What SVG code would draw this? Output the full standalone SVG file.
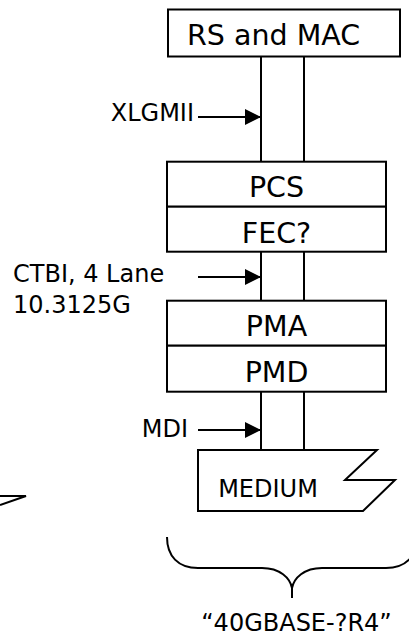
<svg xmlns="http://www.w3.org/2000/svg" width="409" height="637" viewBox="0 0 409 637">
  <defs>
    <style>
      .box { fill: #ffffff; stroke: #000000; stroke-width: 2; }
      .ln { fill: none; stroke: #000000; stroke-width: 2; }
      .big { font-family: "DejaVu Sans", Verdana, sans-serif; font-size: 28.5px; fill: #000000; }
      .lbl { font-family: "DejaVu Sans", Verdana, sans-serif; font-size: 24px; fill: #000000; }
      .arr { fill: none; stroke: #000000; stroke-width: 2; marker-end: url(#ah); }
    </style>
    <marker id="ah" markerUnits="userSpaceOnUse" markerWidth="16" markerHeight="16" refX="16" refY="8" orient="auto">
      <path d="M0,0 L16,8 L0,16 Z" fill="#000000"/>
    </marker>
  </defs>
  <rect width="409" height="637" fill="#ffffff"/>

  <g id="connectors">
    <line class="ln" x1="261" y1="57" x2="261" y2="162"/>
    <line class="ln" x1="304" y1="57" x2="304" y2="162"/>
    <line class="ln" x1="261" y1="252" x2="261" y2="301"/>
    <line class="ln" x1="304" y1="252" x2="304" y2="301"/>
    <line class="ln" x1="261" y1="392" x2="261" y2="450"/>
    <line class="ln" x1="304" y1="392" x2="304" y2="450"/>
    <line class="arr" x1="198" y1="117" x2="261" y2="117"/>
    <line class="arr" x1="198" y1="277" x2="261" y2="277"/>
    <line class="arr" x1="198" y1="430" x2="261" y2="430"/>
  </g>

  <g id="rs-mac">
    <rect class="box" x="168" y="9.5" width="232" height="47"/>
    <text class="big" x="187" y="45">RS and MAC</text>
  </g>

  <g id="pcs">
    <rect class="box" x="167" y="161.7" width="219" height="45"/>
    <text class="big" x="276.5" y="196.7" text-anchor="middle">PCS</text>
  </g>

  <g id="fec">
    <rect class="box" x="167" y="206.7" width="219" height="45"/>
    <text class="big" x="276.5" y="242.7" text-anchor="middle">FEC?</text>
  </g>

  <g id="pma">
    <rect class="box" x="167" y="300.7" width="219" height="45"/>
    <text class="big" x="276.5" y="335.7" text-anchor="middle">PMA</text>
  </g>

  <g id="pmd">
    <rect class="box" x="167" y="345.7" width="219" height="46"/>
    <text class="big" x="276.5" y="381.7" text-anchor="middle">PMD</text>
  </g>

  <g id="medium">
    <path class="box" d="M198,450 L377,450 L345,480 L395,480 L363,511 L198,511 Z"/>
    <text class="lbl" x="268" y="497" text-anchor="middle">MEDIUM</text>
  </g>

  <g id="label-xlgmii">
    <text class="lbl" x="194" y="120.7" text-anchor="end">XLGMII</text>
  </g>

  <g id="label-ctbi">
    <text class="lbl" x="13" y="281.7">CTBI, 4 Lane</text>
    <text class="lbl" x="13" y="313.3">10.3125G</text>
  </g>

  <g id="label-mdi">
    <text class="lbl" x="188" y="437" text-anchor="end">MDI</text>
  </g>

  <g id="brace">
    <path class="ln" d="M167,537 C167,556 178,568 198,568 L262,568 C280,568 290,578 292,588 L292,598 M292,588 C294,578 304,568 322,568 L386,568 C406,568 417,556 417,537"/>
    <text class="lbl" x="296.5" y="631" text-anchor="middle">“40GBASE-?R4”</text>
  </g>

  <g id="fragment">
    <polyline class="ln" points="0,496 26,496 0,505"/>
  </g>
</svg>
